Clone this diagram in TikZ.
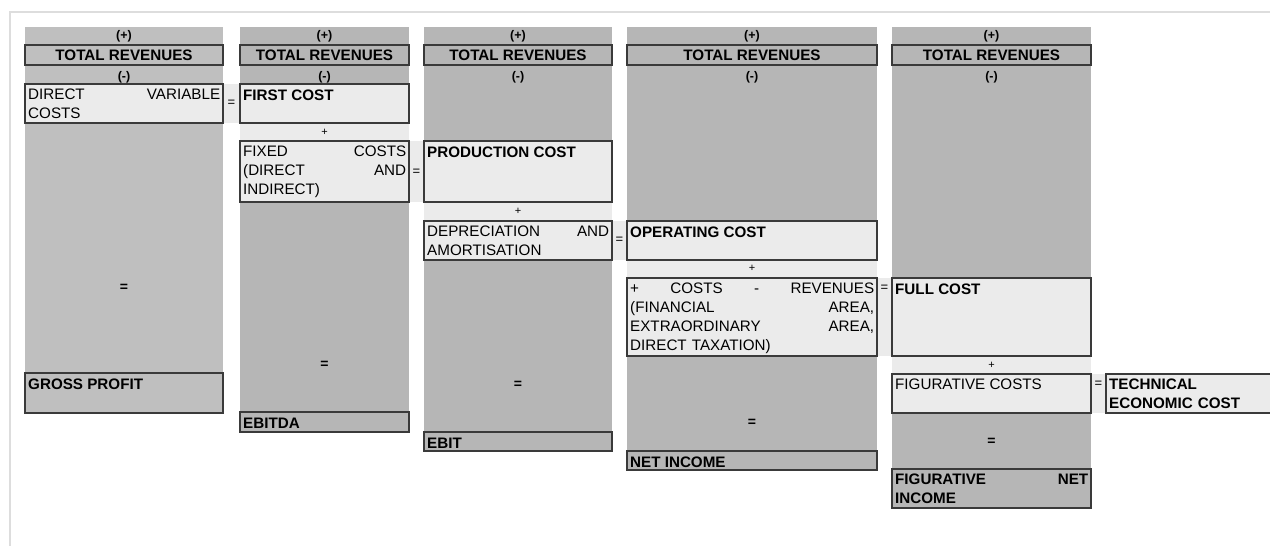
\documentclass[tikz,border=0pt]{standalone}
\usepackage{fontspec}
\setmainfont{Liberation Sans}
\usetikzlibrary{calc}
\definecolor{colA}{HTML}{BFBFBF}
\definecolor{colB}{HTML}{B6B6B6}
\definecolor{lite}{HTML}{EBEBEB}
\definecolor{edge}{HTML}{3A3A3A}
\definecolor{framec}{HTML}{DDDDDD}
\newcommand{\cellat}[6]{%
  \pgfmathsetmacro\mycw{#5-#3}\pgfmathsetmacro\mych{#6-#4}%
  \node[cell, fill=#2, minimum width=\mycw pt, minimum height=\mych pt] (#1) at (#3,#4) {};}
\tikzset{
  cell/.style={draw=edge, line width=1.3pt, inner sep=0pt, outer sep=0pt, anchor=north west, rectangle},
  txt/.style={anchor=base west, inner sep=0pt, align=left, text=black, font=\fontsize{15.2}{19.3}\selectfont},
  btxt/.style={txt, font=\fontsize{15.2}{19.3}\selectfont\bfseries},
  ctr/.style={inner sep=0pt, text=black, font=\fontsize{15.2}{19.3}\selectfont\bfseries},
  sign/.style={inner sep=0pt, text=black, font=\fontsize{12.5}{14}\selectfont\bfseries},
  colq/.style={inner sep=0pt, text=black, font=\fontsize{14}{16}\selectfont\bfseries},
  plus/.style={inner sep=0pt, text=black, font=\fontsize{11}{12}\selectfont},
  eqs/.style={inner sep=0pt, text=black, font=\fontsize{13}{14}\selectfont},
}
\begin{document}
\begin{tikzpicture}[x=1pt,y=-1pt]
\useasboundingbox (0,0) rectangle (1270,546);
% frame
\draw[framec, line width=1.3pt] (1272,12) -- (10,12) -- (10,548);
% column backgrounds
\fill[colA] (25,27) rectangle (223,413);
\fill[colB] (240,27) rectangle (409,432);
\fill[colB] (424,27) rectangle (612,451);
\fill[colB] (627,27) rectangle (877,470);
\fill[colB] (892,27) rectangle (1091,508);
% light bands
\fill[lite] (223,84) rectangle (240,123);
\fill[lite] (240,123) rectangle (409,141);
\fill[lite] (409,141) rectangle (424,202);
\fill[lite] (424,202) rectangle (612,221);
\fill[lite] (612,221) rectangle (627,260);
\fill[lite] (627,260) rectangle (877,278);
\fill[lite] (877,278) rectangle (892,356);
\fill[lite] (892,356) rectangle (1091,374);
\fill[lite] (1091,374) rectangle (1106,413);
% total revenues boxes
\cellat{tr1}{colA}{25}{45}{223}{65}
\cellat{tr2}{colB}{240}{45}{409}{65}
\cellat{tr3}{colB}{424}{45}{612}{65}
\cellat{tr4}{colB}{627}{45}{877}{65}
\cellat{tr5}{colB}{892}{45}{1091}{65}
\foreach \n in {tr1,tr2,tr3,tr4,tr5}{
  \node[ctr] (\n-t) at (\n.center) {TOTAL REVENUES};
}
\foreach \x/\n in {124/1,324.5/2,518/3,752/4,991.5/5}{
  \node[sign] (p\n) at (\x,36) {(+)};
  \node[sign] (m\n) at (\x,77) {(-)};
}
% light boxes
\cellat{dvc}{lite}{25}{84}{223}{123}
\cellat{fc}{lite}{240}{84}{409}{123}
\cellat{fix}{lite}{240}{141}{409}{202}
\cellat{pc}{lite}{424}{141}{612}{202}
\cellat{da}{lite}{424}{221}{612}{260}
\cellat{oc}{lite}{627}{221}{877}{260}
\cellat{cr}{lite}{627}{278}{877}{356}
\cellat{ful}{lite}{892}{278}{1091}{356}
\cellat{fig}{lite}{892}{374}{1091}{413}
\cellat{tec}{lite}{1106}{374}{1275}{413}
% result boxes
\cellat{gp}{colA}{25}{373}{223}{413}
\cellat{ebitda}{colB}{240}{412}{409}{432}
\cellat{ebit}{colB}{424}{432}{612}{451}
\cellat{ni}{colB}{627}{451}{877}{470}
\cellat{fni}{colB}{892}{469}{1091}{508}
% texts
\node[txt, text width=192pt] (dvc-t) at ($(dvc.north west)+(3,15)$) {DIRECT\hfill VARIABLE\\COSTS};
\node[btxt] (fc-t) at ($(fc.north west)+(3,16)$) {FIRST COST};
\node[txt, text width=163pt] (fix-t) at ($(fix.north west)+(3,15)$) {FIXED\hfill COSTS\\(DIRECT\hfill AND\\INDIRECT)};
\node[btxt] (pc-t) at ($(pc.north west)+(3,16)$) {PRODUCTION COST};
\node[txt, text width=182pt] (da-t) at ($(da.north west)+(3,15)$) {DEPRECIATION\hfill AND\\AMORTISATION};
\node[btxt] (oc-t) at ($(oc.north west)+(3,16)$) {OPERATING COST};
\node[txt, text width=244pt] (cr-t) at ($(cr.north west)+(3,15)$) {+\hfill COSTS\hfill -\hfill REVENUES\\(FINANCIAL\hfill AREA,\\EXTRAORDINARY\hfill AREA,\\DIRECT TAXATION)};
\node[btxt] (ful-t) at ($(ful.north west)+(3,16)$) {FULL COST};
\node[txt] (fig-t) at ($(fig.north west)+(3,15)$) {FIGURATIVE COSTS};
\node[btxt, text width=160pt] (tec-t) at ($(tec.north west)+(3,15)$) {TECHNICAL\\ECONOMIC COST};
\node[btxt] (gp-t) at ($(gp.north west)+(3,16)$) {GROSS PROFIT};
\node[btxt] (ebitda-t) at ($(ebitda.north west)+(3,16)$) {EBITDA};
\node[btxt] (ebit-t) at ($(ebit.north west)+(3,16)$) {EBIT};
\node[btxt] (ni-t) at ($(ni.north west)+(3,16)$) {NET INCOME};
\node[btxt, text width=193pt] (fni-t) at ($(fni.north west)+(3,15)$) {FIGURATIVE\hfill NET\\INCOME};
% plus signs
\node[plus] (pl2) at (324.5,132) {+};
\node[plus] (pl3) at (518,211) {+};
\node[plus] (pl4) at (752,268) {+};
\node[plus] (pl5) at (991.5,365) {+};
% equals in bands
\node[eqs] (e1) at (231.5,103) {=};
\node[eqs] (e2) at (416.5,172) {=};
\node[eqs] (e3) at (619.5,240) {=};
\node[eqs] (e4) at (884.5,288) {=};
\node[eqs] (e5) at (1098.5,384) {=};
% equals in columns
\node[colq] (q1) at (124,288) {=};
\node[colq] (q2) at (324.5,365) {=};
\node[colq] (q3) at (518,385) {=};
\node[colq] (q4) at (752,423) {=};
\node[colq] (q5) at (991.5,442) {=};
\end{tikzpicture}
\end{document}
